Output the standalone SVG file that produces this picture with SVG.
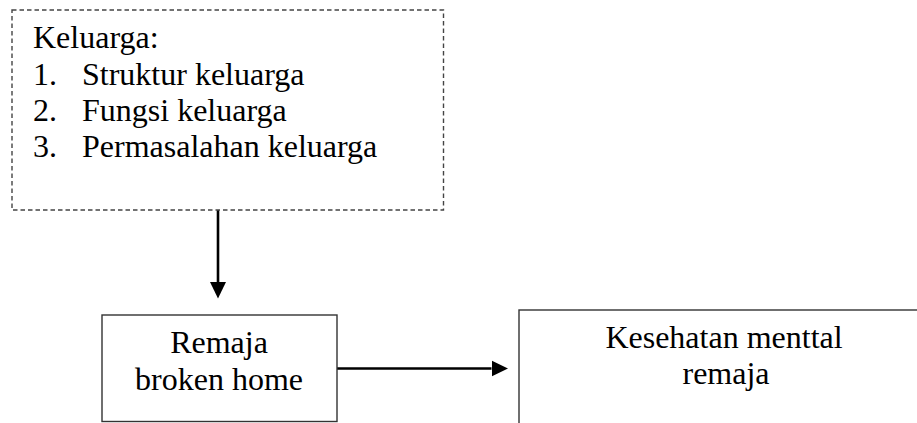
<svg xmlns="http://www.w3.org/2000/svg" width="917" height="423" viewBox="0 0 917 423">
<style>
  .t { font-family: "Liberation Serif", "Times New Roman", serif; font-size: 32px; fill: #000; }
  .box { fill: #fff; stroke: #333; stroke-width: 1.4; }
  .dash { fill: #fff; stroke: #444; stroke-width: 1.4; stroke-dasharray: 4.5 3; }
  .conn { stroke: #000; stroke-width: 2.6; fill: none; }
</style>
<defs>
  <marker id="ah" markerUnits="userSpaceOnUse" markerWidth="17" markerHeight="17" refX="0" refY="8.5" orient="auto" viewBox="0 0 17 17">
    <polygon points="0,0.5 16.5,8.5 0,16.5" fill="#000"/>
  </marker>
</defs>
<rect width="917" height="423" fill="#fff"/>
<g id="connectors">
  <line class="conn" x1="218" y1="210" x2="218" y2="282" marker-end="url(#ah)"/>
  <line class="conn" x1="337" y1="368.5" x2="491.5" y2="368.5" marker-end="url(#ah)"/>
</g>
<g id="keluarga">
  <rect class="dash" x="12" y="10" width="431.5" height="200"/>
  <text class="t" x="33" y="48">Keluarga:</text>
  <text class="t" x="33" y="84.5">1.</text>
  <text class="t" x="82" y="84.5">Struktur keluarga</text>
  <text class="t" x="33" y="121">2.</text>
  <text class="t" x="82" y="121">Fungsi keluarga</text>
  <text class="t" x="33" y="157">3.</text>
  <text class="t" x="82" y="157">Permasalahan keluarga</text>
</g>
<g id="remaja">
  <rect class="box" x="102" y="315" width="235" height="106.5"/>
  <text class="t" x="219" y="353" text-anchor="middle">Remaja</text>
  <text class="t" x="219" y="390" text-anchor="middle">broken home</text>
</g>
<g id="kesehatan">
  <rect class="box" x="519" y="310" width="420" height="130"/>
  <text class="t" x="724" y="348" text-anchor="middle">Kesehatan menttal</text>
  <text class="t" x="726" y="384" text-anchor="middle">remaja</text>
</g>
</svg>
